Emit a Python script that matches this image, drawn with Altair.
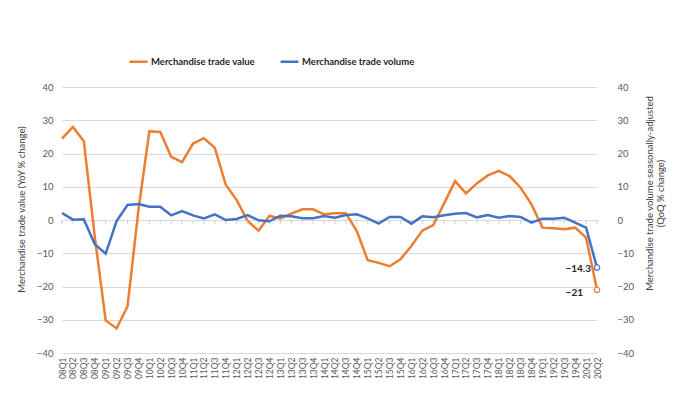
import altair as alt
import pandas as pd

quarters = [
    "08Q1", "08Q2", "08Q3", "08Q4", "09Q1", "09Q2", "09Q3", "09Q4",
    "10Q1", "10Q2", "10Q3", "10Q4", "11Q1", "11Q2", "11Q3", "11Q4",
    "12Q1", "12Q2", "12Q3", "12Q4", "13Q1", "13Q2", "13Q3", "13Q4",
    "14Q1", "14Q2", "14Q3", "14Q4", "15Q1", "15Q2", "15Q3", "15Q4",
    "16Q1", "16Q2", "16Q3", "16Q4", "17Q1", "17Q2", "17Q3", "17Q4",
    "18Q1", "18Q2", "18Q3", "18Q4", "19Q1", "19Q2", "19Q3", "19Q4",
    "20Q1", "20Q2",
]

trade_value = [
    24.5, 28.0, 23.7, -5.0, -30.2, -32.6, -26.0, 3.0,
    26.7, 26.5, 19.0, 17.4, 23.0, 24.6, 21.7, 10.6,
    6.0, -0.3, -3.2, 1.2, 0.5, 1.9, 3.2, 3.2,
    1.7, 2.0, 2.0, -3.3, -12.1, -12.9, -13.9, -11.8,
    -7.8, -3.2, -1.5, 5.0, 11.7, 8.0, 11.0, 13.4,
    14.8, 13.2, 9.7, 4.7, -2.3, -2.5, -2.8, -2.3,
    -5.3, -21.0,
]

trade_volume = [
    2.1, 0.1, 0.2, -7.3, -10.1, -0.3, 4.5, 4.8,
    4.0, 4.0, 1.4, 2.7, 1.4, 0.5, 1.7, 0.0,
    0.3, 1.5, -0.1, -0.4, 1.3, 1.1, 0.5, 0.5,
    1.2, 0.7, 1.5, 1.7, 0.5, -1.1, 0.9, 0.9,
    -1.1, 1.1, 0.8, 1.4, 1.9, 2.1, 0.8, 1.5,
    0.7, 1.2, 0.9, -0.8, 0.4, 0.4, 0.7, -0.8,
    -2.3, -14.3,
]

VALUE = "Merchandise trade value"
VOLUME = "Merchandise trade volume"
ORANGE = "#ED7D31"
BLUE = "#4472C4"
FONT = "Lato"

n = len(quarters)
df = pd.DataFrame({
    "quarter": quarters * 2,
    "series": [VALUE] * n + [VOLUME] * n,
    "pct": trade_value + trade_volume,
})
last_q = quarters[-1]

x_enc = alt.X(
    "quarter:O", sort=quarters,
    scale=alt.Scale(type="point", padding=0),
    axis=alt.Axis(title=None, labelAngle=-90, labelFontSize=8.5, labelColor="#595959",
                  labelFont=FONT, labelPadding=4, domain=False, ticks=False, tickSize=0,
                  grid=False, labelOverlap=False),
)

color_enc = alt.Color(
    "series:N",
    scale=alt.Scale(domain=[VALUE, VOLUME], range=[ORANGE, BLUE]),
    legend=alt.Legend(
        title=None, orient="none", legendX=66, legendY=-36, direction="horizontal",
        symbolType="stroke", symbolSize=320, symbolStrokeWidth=2.5,
        labelFont=FONT, labelFontSize=9.5, labelColor="#262626", labelFontWeight="bold",
        columnPadding=20, labelOffset=2, labelLimit=300,
    ),
)

ticks_vals = [-40, -30, -20, -10, 0, 10, 20, 30, 40]

y_left = alt.Y(
    "pct:Q", scale=alt.Scale(domain=[-40, 40], nice=False, zero=False),
    axis=alt.Axis(
        orient="left", values=ticks_vals, title="Merchandise trade value (YoY % change)",
        grid=True, gridColor="#d9d9d9", gridWidth=1, domain=False, ticks=False, tickSize=0,
        labelPadding=9, labelFont=FONT, labelFontSize=9.5, labelColor="#595959",
        labelOverlap=False,
        titleFont=FONT, titleFontSize=9.5, titleFontWeight="normal", titleColor="#404040",
        titleX=-41, titleY=122, titleAngle=270, titleBaseline="middle", titleAlign="center",
    ),
)

y_right = alt.Y(
    "pct:Q", scale=alt.Scale(domain=[-40, 40], nice=False, zero=False),
    axis=alt.Axis(
        orient="right", values=ticks_vals,
        title=["Merchandise trade volume seasonally-adjusted", "(QoQ % change)"],
        grid=False, domain=False, ticks=False, tickSize=0,
        labelPadding=20, labelFont=FONT, labelFontSize=9.5, labelColor="#595959",
        labelOverlap=False,
        titleFont=FONT, titleFontSize=9.5, titleFontWeight="normal", titleColor="#404040",
        titleX=47, titleY=106, titleAngle=270, titleBaseline="top", titleAlign="center",
        titleLineHeight=11,
    ),
)

base = alt.Chart(df)

# left (value) group
value_data = base.transform_filter(alt.datum.series == VALUE)

value_line = value_data.mark_line(strokeWidth=2.5).encode(x=x_enc, y=y_left, color=color_enc)

zero_ticks = value_data.transform_calculate(pct="0").mark_tick(
    orient="vertical", size=4, color="#bfbfbf", thickness=1, yOffset=2
).encode(x=x_enc, y=y_left)

value_end = base.transform_filter(
    (alt.datum.series == VALUE) & (alt.datum.quarter == last_q)
)
value_pt = value_end.mark_point(
    shape="circle", size=30, filled=True, fill="white", stroke=ORANGE, strokeWidth=1.2, opacity=1
).encode(x=x_enc, y=y_left)
value_txt = value_end.mark_text(
    align="right", dx=-14, dy=3, fontSize=10, font=FONT, color="#262626", fontWeight="bold"
).encode(x=x_enc, y=y_left, text=alt.Text("pct:Q", format="~g"))

left = alt.layer(value_line, zero_ticks, value_pt, value_txt)

# right (volume) group
volume_line = base.transform_filter(alt.datum.series == VOLUME).mark_line(
    strokeWidth=2.5
).encode(x=x_enc, y=y_right, color=color_enc)

volume_end = base.transform_filter(
    (alt.datum.series == VOLUME) & (alt.datum.quarter == last_q)
)
volume_pt = volume_end.mark_point(
    shape="circle", size=30, filled=True, fill="white", stroke=BLUE, strokeWidth=1.2, opacity=1
).encode(x=x_enc, y=y_right)
volume_txt = volume_end.mark_text(
    align="right", dx=-6, dy=1, fontSize=10, font=FONT, color="#262626", fontWeight="bold"
).encode(x=x_enc, y=y_right, text=alt.Text("pct:Q", format="~g"))

right = alt.layer(volume_line, volume_pt, volume_txt)

chart = alt.layer(left, right).resolve_scale(y="independent").properties(
    width=535,
    height=266,
    autosize=alt.AutoSizeParams(type="none"),
    padding={"left": 54, "top": 79, "right": 69, "bottom": 50},
    background="white",
).configure_view(stroke=None)

chart.save("out.html", embed_options={"renderer": "svg", "actions": False})
